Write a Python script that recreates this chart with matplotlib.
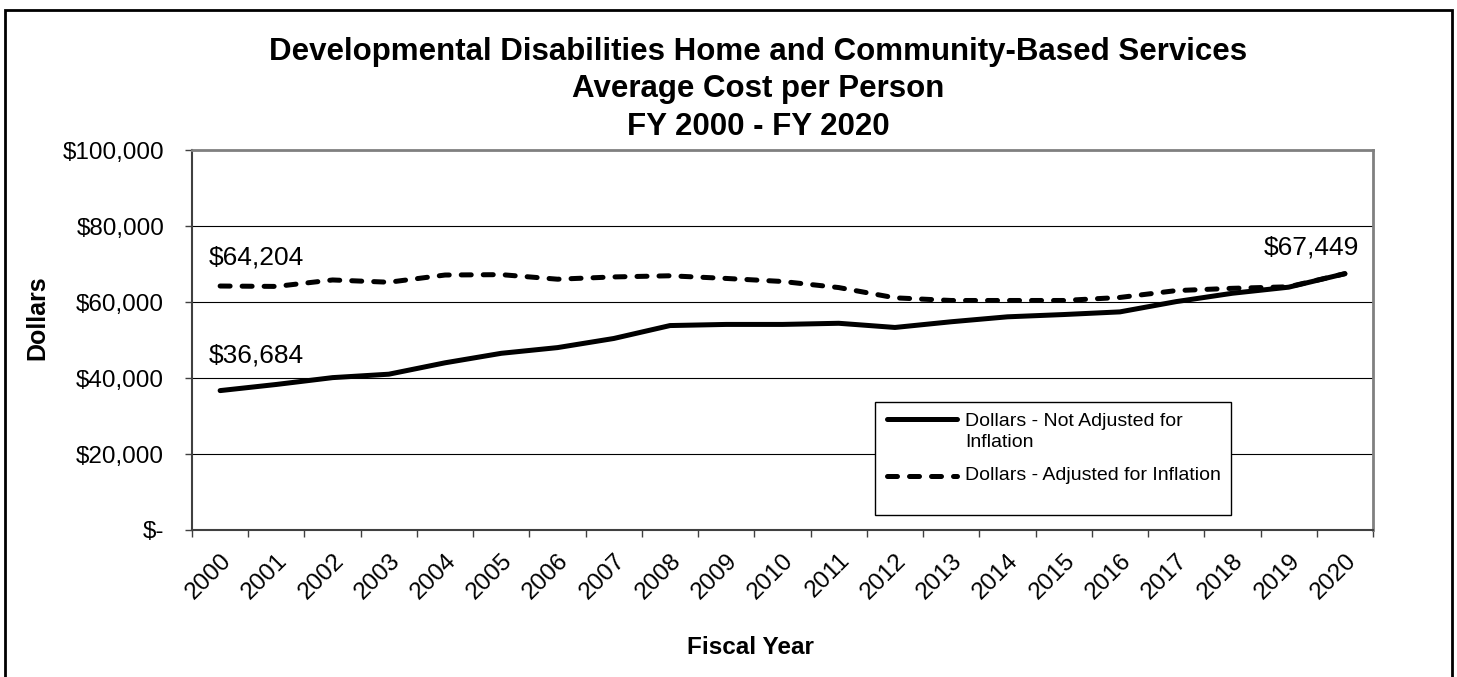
import numpy as np
import matplotlib
matplotlib.use("Agg")
import matplotlib.pyplot as plt
from matplotlib.patches import Rectangle
from matplotlib.lines import Line2D

# average cost per person, fiscal years 2000-2020
years = [str(y) for y in range(2000, 2021)]
not_adjusted = [36684, 38300, 40100, 41000, 44000, 46500, 48000, 50400, 53800, 54100,
                54100, 54400, 53300, 54800, 56100, 56700, 57400, 60100, 62300, 63900, 67449]
adjusted = [64204, 64100, 65800, 65200, 67100, 67200, 66000, 66600, 66900, 66200,
            65400, 63800, 61100, 60400, 60400, 60400, 61200, 63000, 63600, 64000, 67449]
y_ticks = [0, 20000, 40000, 60000, 80000, 100000]
y_tick_labels = ["$-" if v == 0 else "${:,}".format(v) for v in y_ticks]

title_lines = ["Developmental Disabilities Home and Community-Based Services",
               "Average Cost per Person",
               "FY 2000 - FY 2020"]
label_solid = "Dollars - Not Adjusted for\nInflation"
label_dashed = "Dollars - Adjusted for Inflation"

plt.rcParams['font.family'] = ['Liberation Sans', 'DejaVu Sans']

W, H = 1457, 677
fig = plt.figure(figsize=(W / 100, H / 100), dpi=100)
fig.patch.set_facecolor('white')


def fx(px):
    return px / W


def fy(py):
    return 1 - py / H


# plot area spans pixels 192..1373 across, 150..530 down
def ax_x(px):
    return (px - 192) / 1181


def ax_y(py):
    return (530 - py) / 380


ax = fig.add_axes([fx(192), fy(530), 1181 / W, 380 / H])

solid_style = dict(color='black', lw=3.6, solid_capstyle='round', solid_joinstyle='round')
dash_style = dict(color='black', lw=3.6, dashes=(2.0, 2.4), dash_capstyle='round')

x = np.arange(len(years))
ax.plot(x, not_adjusted, zorder=3, **solid_style)
ax.plot(x, adjusted, zorder=4, **dash_style)

ax.set_xlim(-0.5, len(years) - 0.5)
ax.set_ylim(0, 100000)

ax.set_yticks(y_ticks)
ax.set_yticklabels(y_tick_labels, fontsize=17.5)
ax.yaxis.grid(True, color='black', lw=0.8)
ax.set_axisbelow(True)

ax.set_xticks(np.arange(-0.5, len(years), 1.0))
ax.set_xticklabels([])
ax.set_xticks(x, minor=True)
ax.set_xticklabels(years, minor=True, rotation=45, ha='right', va='top',
                   rotation_mode='anchor', fontsize=17.5)
ax.tick_params(axis='x', which='major', length=5, width=1, color='#404040', direction='out')
ax.tick_params(axis='x', which='minor', length=0, pad=14)
ax.tick_params(axis='y', length=5, width=1, color='#404040', pad=15)

for side in ['left', 'bottom']:
    ax.spines[side].set_color('#404040')
    ax.spines[side].set_linewidth(1.5)
for side in ['top', 'right']:
    ax.spines[side].set_color('#808080')
    ax.spines[side].set_linewidth(2)

# value labels at the ends
ax.annotate("${:,}".format(adjusted[0]), xy=(0, adjusted[0]), xytext=(36, 29),
            textcoords='offset pixels', ha='center', va='center', fontsize=19)
ax.annotate("${:,}".format(not_adjusted[0]), xy=(0, not_adjusted[0]), xytext=(36, 35),
            textcoords='offset pixels', ha='center', va='center', fontsize=19)
ax.annotate("${:,}".format(not_adjusted[-1]), xy=(x[-1], not_adjusted[-1]), xytext=(-33, 26),
            textcoords='offset pixels', ha='center', va='center', fontsize=19)

# legend, laid out by hand in axes coordinates
ax.add_patch(Rectangle((ax_x(875), ax_y(515)), ax_x(1231) - ax_x(875), ax_y(402) - ax_y(515),
                       transform=ax.transAxes, facecolor='white', edgecolor='black',
                       lw=1, zorder=5))
ax.add_line(Line2D([ax_x(887), ax_x(957)], [ax_y(419), ax_y(419)],
                   transform=ax.transAxes, zorder=6, **solid_style))
ax.add_line(Line2D([ax_x(887), ax_x(957)], [ax_y(476), ax_y(476)],
                   transform=ax.transAxes, zorder=6, **dash_style))
ax.text(ax_x(965), ax_y(432), label_solid, transform=ax.transAxes, ha='left',
        va='center', fontsize=14, linespacing=1.38, zorder=6)
ax.text(ax_x(965), ax_y(476), label_dashed, transform=ax.transAxes, ha='left',
        va='center', fontsize=14, zorder=6)

# titles and axis names
for line, base in zip(title_lines, [60, 97, 135]):
    fig.text(fx(758), fy(base), line, ha='center', va='baseline',
             fontsize=22.5, fontweight='bold')
fig.text(fx(37), fy(318), "Dollars", rotation=90, ha='center', va='center',
         fontsize=18, fontweight='bold')
fig.text(fx(750), fy(648), "Fiscal Year", ha='center', va='center',
         fontsize=17.5, fontweight='bold')

# outer frame
fig.patches.append(Rectangle((fx(5), -0.1), fx(1452) - fx(5), fy(10) + 0.1,
                             transform=fig.transFigure, fill=False,
                             edgecolor='black', lw=2, clip_on=False))

fig.savefig("out.png", dpi=100)
